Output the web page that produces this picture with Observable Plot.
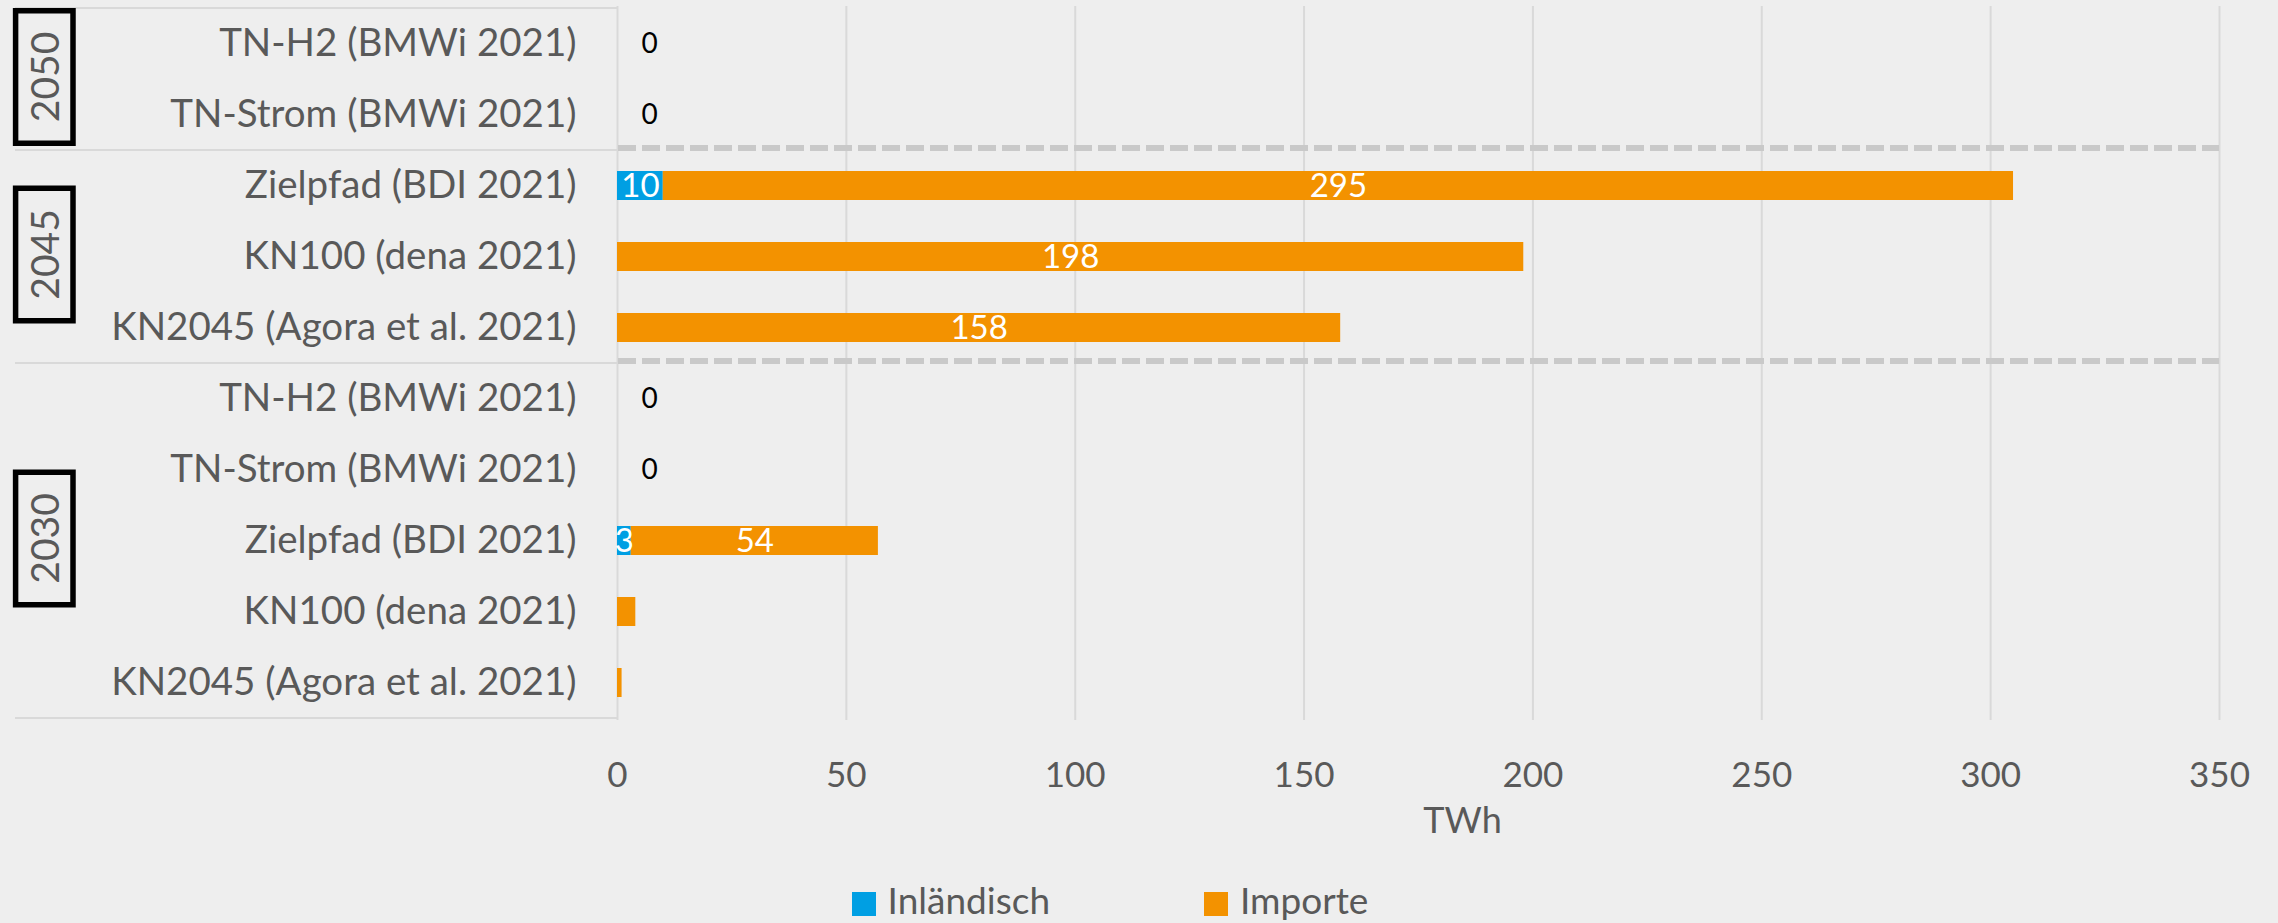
<!DOCTYPE html>
<html>
<head>
<meta charset="utf-8">
<script src="https://cdn.jsdelivr.net/npm/d3@7"></script>
<script src="https://cdn.jsdelivr.net/npm/@observablehq/plot@0.6"></script>
<style>
  html, body { margin: 0; padding: 0; background: #eeeeee; }
  #wrap { position: relative; width: 2278px; height: 923px; overflow: hidden; background: #eeeeee; font-family: Lato, sans-serif; }
  #legend { position: absolute; left: 0; top: 868px; width: 2278px; height: 55px; }
  .item { position: absolute; top: 23.5px; height: 24px; display: flex; align-items: center; color: #595959; font-size: 37px; line-height: 1; }
  .sw { width: 24px; height: 24px; margin-right: 12px; flex: none; }
  .lt { line-height: 1; position: relative; top: -4px; }
</style>
</head>
<body>
<div id="wrap"><div id="chart"></div><div id="legend"></div></div>
<script>
// ---- data ----
const years = ["2050", "2050", "2045", "2045", "2045", "2030", "2030", "2030", "2030", "2030"];
const scenarios = [
  "TN-H2 (BMWi 2021)", "TN-Strom (BMWi 2021)",
  "Zielpfad (BDI 2021)", "KN100 (dena 2021)", "KN2045 (Agora et al. 2021)",
  "TN-H2 (BMWi 2021)", "TN-Strom (BMWi 2021)", "Zielpfad (BDI 2021)", "KN100 (dena 2021)", "KN2045 (Agora et al. 2021)"
];
const inlaendisch = [0, 0, 10, 0, 0, 0, 0, 3, 0, 0];
const importe = [0, 0, 295, 198, 158, 0, 0, 54, 4, 1];
const inlaendischLabels = ["", "", "10", "", "", "", "", "3", "", ""];
const importeLabels = ["", "", "295", "198", "158", "", "", "54", "", ""];
const seriesNames = ["Inländisch", "Importe"];
const seriesColors = ["#009fe3", "#f39200"];
const groupYears = ["2050", "2045", "2030"];
const xTicks = [0, 50, 100, 150, 200, 250, 300, 350];
const xLabel = "TWh";

// ---- derived tables ----
const keys = years.map((y, i) => y + "|" + scenarios[i]);
const rows = keys.map((k, i) => ({key: k, year: years[i], total: inlaendisch[i] + importe[i]}));
const segs = keys.flatMap((k, i) => [
  {key: k, series: seriesNames[0], value: inlaendisch[i], label: inlaendischLabels[i]},
  {key: k, series: seriesNames[1], value: importe[i], label: importeLabels[i]}
]);

const W = 2278, H = 868;
const gridColor = "#d9d9d9";
const textColor = "#595959";

function decor(index, scales, values, dimensions) {
  const y = scales.y;
  const step = y.step(), bw = y.bandwidth();
  const half = (step - bw) / 2;
  const {marginLeft, marginRight, width} = dimensions;
  const g = d3.create("svg:g");
  const bounds = groupYears.map(gy => {
    const ks = keys.filter(k => k.startsWith(gy + "|"));
    return {year: gy, top: y(ks[0]) - half, bottom: y(ks[ks.length - 1]) + bw + half};
  });
  // label-area horizontal lines
  const lineYs = [bounds[0].top, ...bounds.map(b => b.bottom)];
  for (const ly of lineYs) {
    g.append("line").attr("x1", 15).attr("x2", marginLeft).attr("y1", ly).attr("y2", ly)
      .attr("stroke", gridColor).attr("stroke-width", 2);
  }
  // dashed separators between groups
  for (const b of bounds.slice(1)) {
    g.append("line").attr("x1", marginLeft + 1).attr("x2", width - marginRight).attr("y1", b.top - 2).attr("y2", b.top - 2)
      .attr("stroke", "#c9c9c9").attr("stroke-width", 6).attr("stroke-dasharray", "18,6");
  }
  // year boxes
  for (const b of bounds) {
    const cy = (b.top + b.bottom) / 2 - 2;
    const bh = 132.5, bwid = 57.4, cx = 44.3;
    g.append("rect").attr("x", cx - bwid / 2).attr("y", cy - bh / 2).attr("width", bwid).attr("height", bh)
      .attr("fill", "#eeeeee").attr("stroke", "#000").attr("stroke-width", 5.5);
    g.append("text").attr("transform", `translate(${cx},${cy}) rotate(-90)`)
      .attr("text-anchor", "middle").attr("dominant-baseline", "central")
      .attr("font-size", 39).attr("fill", textColor).attr("font-family", "Lato, sans-serif").text(b.year);
  }
  return g.node();
}

const chart = Plot.plot({
  width: W,
  height: H,
  marginLeft: 617,
  marginRight: 59,
  marginTop: 6,
  marginBottom: 148,
  style: {background: "#eeeeee", fontFamily: "Lato, sans-serif", color: textColor, overflow: "visible"},
  x: {domain: [0, 350], ticks: xTicks},
  y: {domain: keys, paddingInner: 0.59, paddingOuter: 0.295},
  color: {domain: seriesNames, range: seriesColors},
  marks: [
    Plot.gridX(xTicks.filter(t => t > 0), {stroke: gridColor, strokeOpacity: 1, strokeWidth: 2}),
    Plot.ruleX([0], {stroke: gridColor, strokeWidth: 2}),
    decor,
    Plot.barX(segs, Plot.stackX({y: "key", x: "value", fill: "series"})),
    Plot.text(segs, Plot.stackX({y: "key", x: "value", text: "label", fill: "white", fontSize: 33})),
    Plot.text(rows.filter(r => r.total === 0), {y: "key", x: "total", text: d => String(d.total), fill: "black", fontSize: 28, dx: 32}),
    Plot.axisY({tickSize: 0, tickPadding: 41, fontSize: 38.5, label: null, tickFormat: k => k.split("|")[1]}),
    Plot.axisX({ticks: xTicks, tickSize: 0, tickPadding: 42, fontSize: 35, label: null, tickFormat: d => String(d)}),
    Plot.text([xLabel], {frameAnchor: "bottom", text: d => d, fontSize: 36, fill: textColor, dy: 112, dx: 44})
  ]
});
document.getElementById("chart").appendChild(chart);

// legend
const legend = document.getElementById("legend");
const lefts = [851.6, 1204];
seriesNames.forEach((name, i) => {
  const it = document.createElement("div");
  it.className = "item";
  it.style.left = lefts[i] + "px";
  it.innerHTML = `<span class="sw" style="background:${seriesColors[i]}"></span><span class="lt">${name}</span>`;
  legend.appendChild(it);
});
</script>
</body>
</html>
